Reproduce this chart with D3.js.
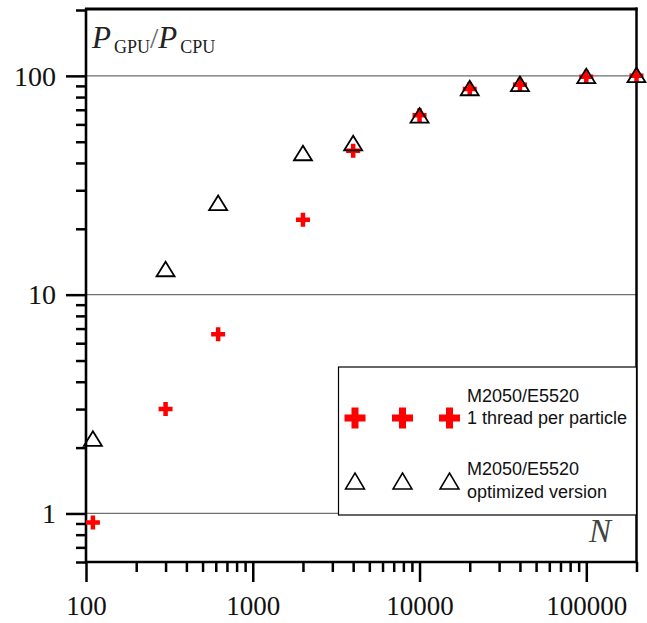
<!DOCTYPE html>
<html><head><meta charset="utf-8">
<script src="https://cdn.jsdelivr.net/npm/d3@7/dist/d3.min.js"></script>
<style>body{margin:0;background:#fff}svg{display:block}</style>
</head><body>
<svg id="c" width="647" height="623"></svg>
<script>
const nValues = [110, 300, 620, 2000, 4000, 10000, 20000, 40000, 100000, 200000];
const thread1 = [0.91, 3.0, 6.6, 22, 45.5, 66, 87, 91, 99, 100];
const optimized = [2.2, 13.1, 26.3, 44.4, 49.3, 66, 88, 92, 100, 101];
const xMajor = [100, 1000, 10000, 100000];
const xMajorLabels = ["100", "1000", "10000", "100000"];
const yMajor = [1, 10, 100];
const yMajorLabels = ["1", "10", "100"];
const legendLabels = [["M2050/E5520", "1 thread per particle"], ["M2050/E5520", "optimized version"]];

const svg = d3.select("#c");
const L = 86, R = 636.5, T = 10, B = 562;
const x = d3.scaleLog().domain([100, 200000]).range([L, R]);
const y = d3.scaleLog().domain([0.6, 200]).range([B, T]);

const xMinor = [];
for (let d = 100; d <= 100000; d *= 10) for (let k = 2; k <= 9; k++) { if (d * k <= 200000) xMinor.push(d * k); }
const yMinor = [];
for (let d = 0.1; d <= 100; d *= 10) for (let k = 2; k <= 9; k++) { const v = +(d * k).toPrecision(3); if (v >= 0.6 && v <= 200) yMinor.push(v); }

// grid
svg.append("g").selectAll("line").data(yMajor).join("line")
  .attr("x1", L).attr("x2", R).attr("y1", d => y(d)).attr("y2", d => y(d))
  .attr("stroke", "#6e6e6e").attr("stroke-width", 1.2);

// axes
const serif = "'Liberation Serif', 'Times New Roman', serif";
const gx = svg.append("g").attr("transform", `translate(0,${B})`);
gx.call(d3.axisBottom(x).tickValues(xMinor).tickSize(10).tickFormat(""));
gx.call(g => g.selectAll(".domain").remove());
const gx2 = svg.append("g").attr("transform", `translate(0,${B})`);
gx2.call(d3.axisBottom(x).tickValues(xMajor).tickSize(20).tickPadding(17).tickFormat((d, i) => xMajorLabels[i]));
gx2.select(".domain").remove();
[gx, gx2].forEach(g => g.selectAll(".tick line").attr("stroke", "#000").attr("stroke-width", 2.5));
gx2.selectAll(".tick text").attr("font-family", serif).attr("font-size", 27).attr("fill", "#111")
  .attr("y", 53).attr("dy", 0);

const gy = svg.append("g").attr("transform", `translate(${L},0)`);
gy.call(d3.axisLeft(y).tickValues(yMinor).tickSize(10).tickFormat(""));
gy.select(".domain").remove();
const gy2 = svg.append("g").attr("transform", `translate(${L},0)`);
gy2.call(d3.axisLeft(y).tickValues(yMajor).tickSize(20).tickPadding(10).tickFormat((d, i) => yMajorLabels[i]));
gy2.select(".domain").remove();
[gy, gy2].forEach(g => g.selectAll(".tick line").attr("stroke", "#000").attr("stroke-width", 2.5));
gy2.selectAll(".tick text").attr("font-family", serif).attr("font-size", 28).attr("fill", "#111").attr("dy", "0.33em");

// frame
svg.append("line").attr("x1", L).attr("x2", L).attr("y1", T - 1.5).attr("y2", B + 1).attr("stroke", "#000").attr("stroke-width", 2.6);
svg.append("line").attr("x1", L).attr("x2", R + 1).attr("y1", B).attr("y2", B).attr("stroke", "#000").attr("stroke-width", 2.6);
svg.append("line").attr("x1", L - 1).attr("x2", R + 1).attr("y1", T - 1).attr("y2", T - 1).attr("stroke", "#000").attr("stroke-width", 3);
svg.append("line").attr("x1", R).attr("x2", R).attr("y1", T - 2.5).attr("y2", B + 1).attr("stroke", "#000").attr("stroke-width", 2.5);

// markers
const plusPath = (s) => `M${-s/2},0H${s/2}M0,${-s/2}V${s/2}`;
const triPath = (w, h) => `M0,${-h/2}L${w/2},${h/2}L${-w/2},${h/2}Z`;

svg.append("g").selectAll("path").data(nValues).join("path")
  .attr("d", plusPath(14)).attr("transform", (d, i) => `translate(${x(d)},${y(thread1[i])})`)
  .attr("stroke", "#ff0000").attr("stroke-width", 4.5).attr("fill", "none");
svg.append("g").selectAll("path").data(nValues).join("path")
  .attr("d", triPath(18, 14.5)).attr("transform", (d, i) => `translate(${x(d)},${y(optimized[i])})`)
  .attr("stroke", "#000").attr("stroke-width", 1.8).attr("fill", "none").attr("stroke-linejoin", "miter");

// axis title labels
const tl = svg.append("text").attr("x", 92).attr("y", 48).attr("fill", "#222").attr("font-family", serif);
tl.append("tspan").attr("font-style", "italic").attr("font-size", 31).text("P");
tl.append("tspan").attr("font-size", 18).attr("dy", 5).attr("dx", 3).text("GPU");
tl.append("tspan").attr("font-size", 30).attr("dy", -5).attr("fill", "#666").text("/");
tl.append("tspan").attr("font-style", "italic").attr("font-size", 31).text("P");
tl.append("tspan").attr("font-size", 18).attr("dy", 5).attr("dx", 3).text("CPU");

// legend
const lg = svg.append("g");
lg.append("rect").attr("x", 338.5).attr("y", 367).attr("width", 298).attr("height", 148)
  .attr("fill", "#fff").attr("stroke", "#000").attr("stroke-width", 1.2);
const lx = [355, 402.5, 449.5];
lg.selectAll(".lp").data(lx).join("path").attr("class", "lp")
  .attr("d", plusPath(21)).attr("transform", d => `translate(${d},418)`)
  .attr("stroke", "#ff0000").attr("stroke-width", 7).attr("fill", "none");
lg.selectAll(".lt").data(lx).join("path").attr("class", "lt")
  .attr("d", triPath(19, 16)).attr("transform", d => `translate(${d},481)`)
  .attr("stroke", "#000").attr("stroke-width", 1.5).attr("fill", "none");
const sans = "'Liberation Sans', Arial, sans-serif";
const ty = [[401.5, 424], [475, 498]];
legendLabels.forEach((pair, i) => pair.forEach((t, j) => {
  lg.append("text").attr("x", 467).attr("y", ty[i][j]).attr("font-family", sans).attr("font-size", 18).attr("fill", "#111").text(t);
}));

// N label
svg.append("text").attr("x", 589).attr("y", 541.5).attr("font-family", serif).attr("font-style", "italic")
  .attr("font-size", 33).attr("fill", "#444").text("N");
</script>
</body></html>
